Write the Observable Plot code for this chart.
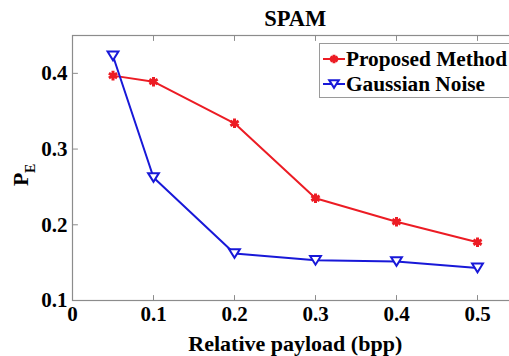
<!DOCTYPE html>
<html>
<head>
<meta charset="utf-8">
<script src="https://cdn.jsdelivr.net/npm/d3@7"></script>
<script src="https://cdn.jsdelivr.net/npm/@observablehq/plot@0.6"></script>
<style>
  html, body { margin: 0; padding: 0; background: #fff; overflow: hidden; width: 509px; height: 356px; }
  #wrap { position: relative; width: 509px; height: 356px; overflow: hidden; }
  #chart svg { max-width: none !important; display: block; }
  svg text { font-family: "Liberation Serif", "DejaVu Serif", serif !important; }
  #legend { position: absolute; left: 319px; top: 43px; width: 200px; height: 55px; background: #fff;
    border: 1px solid #9a9a9a; box-sizing: border-box; font-family: "Liberation Serif", "DejaVu Serif", serif; font-weight: bold; font-size: 21.3px; color: #000; }
  .row { position: absolute; left: 2px; height: 26px; display: flex; align-items: center; white-space: nowrap; }
  .row svg { margin-right: 0px; }
</style>
</head>
<body>
<div id="wrap">
  <div id="chart"></div>
  <div id="legend"></div>
</div>
<script>
const payload = [0.05, 0.1, 0.2, 0.3, 0.4, 0.5];
const proposed = [0.397, 0.389, 0.334, 0.235, 0.204, 0.177];
const gaussian = [0.423, 0.2625, 0.162, 0.153, 0.1515, 0.143];
const seriesNames = ["Proposed Method", "Gaussian Noise"];
const xTicks = [0, 0.1, 0.2, 0.3, 0.4, 0.5];
const yTicks = [0.1, 0.2, 0.3, 0.4];
const titleText = "SPAM";
const xLabel = "Relative payload (bpp)";

const RED = "#ec1c24";
const BLUE = "#1818d8";
const AXIS = "#8c8c8c";
const FONT = "'Liberation Serif', 'DejaVu Serif', serif";

const triDown = {
  draw(ctx, size) {
    const s = Math.sqrt(size / 0.43);
    const h = s * 0.8;
    ctx.moveTo(-s / 2, -h / 2);
    ctx.lineTo(s / 2, -h / 2);
    ctx.lineTo(0, h / 2);
    ctx.closePath();
  }
};
const tickShape = { draw(ctx, l) { ctx.moveTo(0, 0); ctx.lineTo(0, -l); } };

const rowsP = payload.map((x, i) => ({x, y: proposed[i]}));
const rowsG = payload.map((x, i) => ({x, y: gaussian[i]}));

const chart = Plot.plot({
  width: 520,
  height: 356,
  marginLeft: 72,
  marginRight: 2.5,
  marginTop: 35,
  marginBottom: 56,
  style: {fontFamily: FONT, fontWeight: "bold", fontSize: "21px", color: "#000", background: "transparent", maxWidth: "none"},
  x: {domain: [0, 0.55]},
  y: {domain: [0.1, 0.45]},
  marks: [
    Plot.frame({stroke: AXIS, strokeWidth: 1.2}),
    Plot.axisX(xTicks, {anchor: "bottom", tickSize: 0, tickPadding: 6, tickFormat: d => d === 0 ? "0" : d3.format(".1f")(d), label: null, fontSize: 21, fontWeight: "bold"}),
    Plot.axisY(yTicks, {anchor: "left", tickSize: 0, tickPadding: 5, tickFormat: d3.format(".1f"), label: null, fontSize: 21, fontWeight: "bold"}),
    Plot.vector(xTicks, {x: d => d, frameAnchor: "bottom", length: 5, rotate: 0, anchor: "start", stroke: AXIS, strokeWidth: 1, shape: tickShape}),
    Plot.vector(xTicks, {x: d => d, frameAnchor: "top", length: 5, rotate: 180, anchor: "start", stroke: AXIS, strokeWidth: 1, shape: tickShape}),
    Plot.vector(yTicks, {y: d => d, frameAnchor: "left", length: 5, rotate: 90, anchor: "start", stroke: AXIS, strokeWidth: 1, shape: tickShape}),
    Plot.line(rowsP, {x: "x", y: "y", stroke: RED, strokeWidth: 2}),
    Plot.line(rowsG, {x: "x", y: "y", stroke: BLUE, strokeWidth: 2}),
    Plot.dot(rowsP, {x: "x", y: "y", symbol: "asterisk", r: 4.5, stroke: RED, strokeWidth: 3}),
    Plot.dot(rowsG, {x: "x", y: "y", symbol: triDown, r: 4, stroke: BLUE, strokeWidth: 2, fill: "white"}),
    Plot.text([titleText], {frameAnchor: "top", dy: -17, text: d => d, fontSize: 22.5, fontWeight: "bold", lineAnchor: "middle", fill: "#000"}),
    Plot.text([xLabel], {frameAnchor: "bottom", dy: 43, text: d => d, fontSize: 22, fontWeight: "bold", lineAnchor: "middle", fill: "#000"}),
    Plot.text(["P"], {frameAnchor: "left", dx: -52, dy: 18, rotate: -90, text: d => d, fontSize: 22, fontWeight: "bold", lineAnchor: "middle", fill: "#000"}),
    Plot.text(["E"], {frameAnchor: "left", dx: -42, dy: 5, rotate: -90, text: d => d, fontSize: 14, fontWeight: "bold", lineAnchor: "middle", fill: "#000"})
  ]
});
document.getElementById("chart").appendChild(chart);

// legend
const legend = document.getElementById("legend");
const colors = [RED, BLUE];
seriesNames.forEach((name, i) => {
  const row = document.createElement("div");
  row.className = "row";
  row.style.top = (i * 25 + 2) + "px";
  const ns = "http://www.w3.org/2000/svg";
  const svg = document.createElementNS(ns, "svg");
  svg.setAttribute("width", 24);
  svg.setAttribute("height", 20);
  const line = document.createElementNS(ns, "line");
  line.setAttribute("x1", 1); line.setAttribute("x2", 23);
  line.setAttribute("y1", 10); line.setAttribute("y2", 10);
  line.setAttribute("stroke", colors[i]); line.setAttribute("stroke-width", 2);
  svg.appendChild(line);
  const m = document.createElementNS(ns, "path");
  if (i === 0) {
    m.setAttribute("d", d3.symbol(d3.symbolAsterisk, 50)());
    m.setAttribute("stroke", colors[i]); m.setAttribute("stroke-width", 3); m.setAttribute("fill", "none");
  } else {
    m.setAttribute("d", d3.symbol(triDown, 40)());
    m.setAttribute("stroke", colors[i]); m.setAttribute("stroke-width", 2); m.setAttribute("fill", "white");
  }
  m.setAttribute("transform", "translate(12,10)");
  svg.appendChild(m);
  row.appendChild(svg);
  const span = document.createElement("span");
  span.textContent = name;
  row.appendChild(span);
  legend.appendChild(row);
});
</script>
</body>
</html>
